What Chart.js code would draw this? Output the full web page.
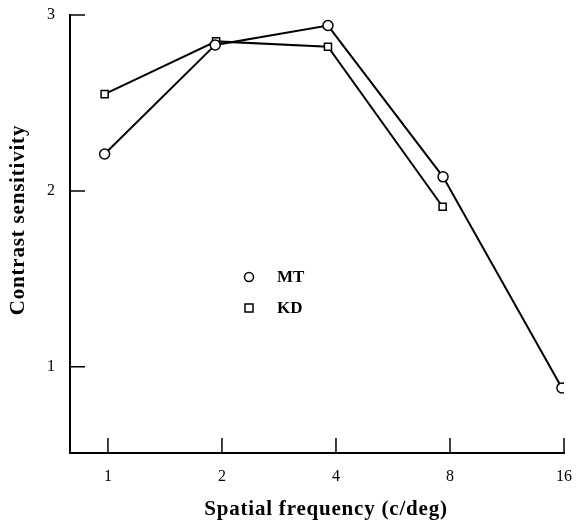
<!DOCTYPE html>
<html>
<head>
<meta charset="utf-8">
<script src="https://cdn.jsdelivr.net/npm/chart.js@4"></script>
<style>
  html, body { margin: 0; padding: 0; background: #fff; }
  #wrap { width: 577px; height: 522px; }
</style>
</head>
<body>
<div id="wrap"><canvas id="chart" width="577" height="522"></canvas></div>
<script>
// values (x = spatial frequency, y = contrast sensitivity)
const mtFreq = [0.98, 1.92, 3.81, 7.67, 15.8];
const mtSens = [2.21, 2.83, 2.94, 2.08, 0.88];
const kdFreq = [0.98, 1.93, 3.81, 7.65];
const kdSens = [2.55, 2.85, 2.82, 1.91];

const xTicks = [1, 2, 4, 8, 16];
const yTicks = [1, 2, 3];
const seriesNames = ['MT', 'KD'];
const xTitle = 'Spatial frequency (c/deg)';
const yTitle = 'Contrast sensitivity';

const SERIF = '"Liberation Serif", "DejaVu Serif", serif';

function toPoints(xs, ys) {
  return xs.map((x, i) => ({ x, y: ys[i] }));
}

// inward tick marks, like the printed figure
const innerTicks = {
  id: 'innerTicks',
  afterDraw(chart) {
    const { ctx, chartArea, scales } = chart;
    ctx.save();
    ctx.strokeStyle = '#000';
    ctx.lineWidth = 1.5;
    ctx.beginPath();
    for (const v of xTicks) {
      const px = scales.x.getPixelForValue(v);
      ctx.moveTo(px, chartArea.bottom);
      ctx.lineTo(px, chartArea.bottom - 15);
    }
    for (const v of yTicks) {
      const py = scales.y.getPixelForValue(v);
      ctx.moveTo(chartArea.left, py);
      ctx.lineTo(chartArea.left + 15, py);
    }
    ctx.stroke();
    ctx.restore();
  }
};

// axis titles, spaced out a little like the typeset original
const axisTitles = {
  id: 'axisTitles',
  afterDraw(chart) {
    const { ctx, chartArea } = chart;
    ctx.save();
    ctx.fillStyle = '#000';
    ctx.font = 'bold 21px ' + SERIF;
    ctx.letterSpacing = '0.8px';
    ctx.textAlign = 'center';
    ctx.textBaseline = 'middle';
    ctx.fillText(xTitle, (chartArea.left + chartArea.right) / 2 + 9, 510);
    ctx.translate(19, (chartArea.top + chartArea.bottom) / 2 - 14);
    ctx.rotate(-Math.PI / 2);
    ctx.fillText(yTitle, 0, 0);
    ctx.restore();
  }
};

// legend sits inside the plot
const innerLegend = {
  id: 'innerLegend',
  afterDraw(chart) {
    const { ctx } = chart;
    const x0 = 249, y0 = 277, gap = 31;
    ctx.save();
    chart.data.datasets.forEach((ds, i) => {
      const y = y0 + i * gap;
      ctx.lineWidth = 1.5;
      ctx.strokeStyle = '#000';
      ctx.fillStyle = '#fff';
      ctx.beginPath();
      if (ds.pointStyle === 'rect') {
        ctx.rect(x0 - 4, y - 4, 8, 8);
      } else {
        ctx.arc(x0, y, 4.5, 0, Math.PI * 2);
      }
      ctx.fill();
      ctx.stroke();
      ctx.fillStyle = '#000';
      ctx.font = 'bold 17px ' + SERIF;
      ctx.textBaseline = 'middle';
      ctx.fillText(ds.label, x0 + 28, y + 1);
    });
    ctx.restore();
  }
};

new Chart(document.getElementById('chart'), {
  type: 'line',
  data: {
    datasets: [
      {
        label: seriesNames[0],
        data: toPoints(mtFreq, mtSens),
        borderColor: '#000',
        borderWidth: 2,
        pointStyle: 'circle',
        pointRadius: 5,
        pointBorderWidth: 1.5,
        pointBackgroundColor: '#fff',
        pointBorderColor: '#000',
        tension: 0
      },
      {
        label: seriesNames[1],
        data: toPoints(kdFreq, kdSens),
        borderColor: '#000',
        borderWidth: 2,
        pointStyle: 'rect',
        pointRadius: 5,
        pointBorderWidth: 1.5,
        pointBackgroundColor: '#fff',
        pointBorderColor: '#000',
        tension: 0
      }
    ]
  },
  options: {
    responsive: false,
    animation: false,
    layout: { padding: { top: 15, right: 13, left: 0, bottom: 0 } },
    plugins: { legend: { display: false }, tooltip: { enabled: false } },
    scales: {
      x: {
        type: 'logarithmic',
        min: 0.794,
        max: 16,
        afterBuildTicks(scale) { scale.ticks = xTicks.map(v => ({ value: v })); },
        afterFit(scale) {
          scale.height = 69;
          scale.paddingLeft = 0;
          scale.paddingRight = 0;
        },
        grid: { drawOnChartArea: false, drawTicks: false },
        border: { display: true, color: '#000', width: 2 },
        ticks: {
          color: '#000',
          padding: 14,
          maxRotation: 0,
          autoSkip: false,
          font: { family: SERIF, size: 16 },
          callback: v => String(v)
        }
      },
      y: {
        type: 'linear',
        min: 0.51,
        max: 3,
        afterBuildTicks(scale) { scale.ticks = yTicks.map(v => ({ value: v })); },
        afterFit(scale) {
          scale.width = 70;
          scale.paddingTop = 0;
          scale.paddingBottom = 0;
        },
        grid: { drawOnChartArea: false, drawTicks: false },
        border: { display: true, color: '#000', width: 2 },
        ticks: {
          color: '#000',
          padding: 15,
          font: { family: SERIF, size: 16 },
          callback: v => String(v)
        }
      }
    }
  },
  plugins: [innerTicks, axisTitles, innerLegend]
});
</script>
</body>
</html>
